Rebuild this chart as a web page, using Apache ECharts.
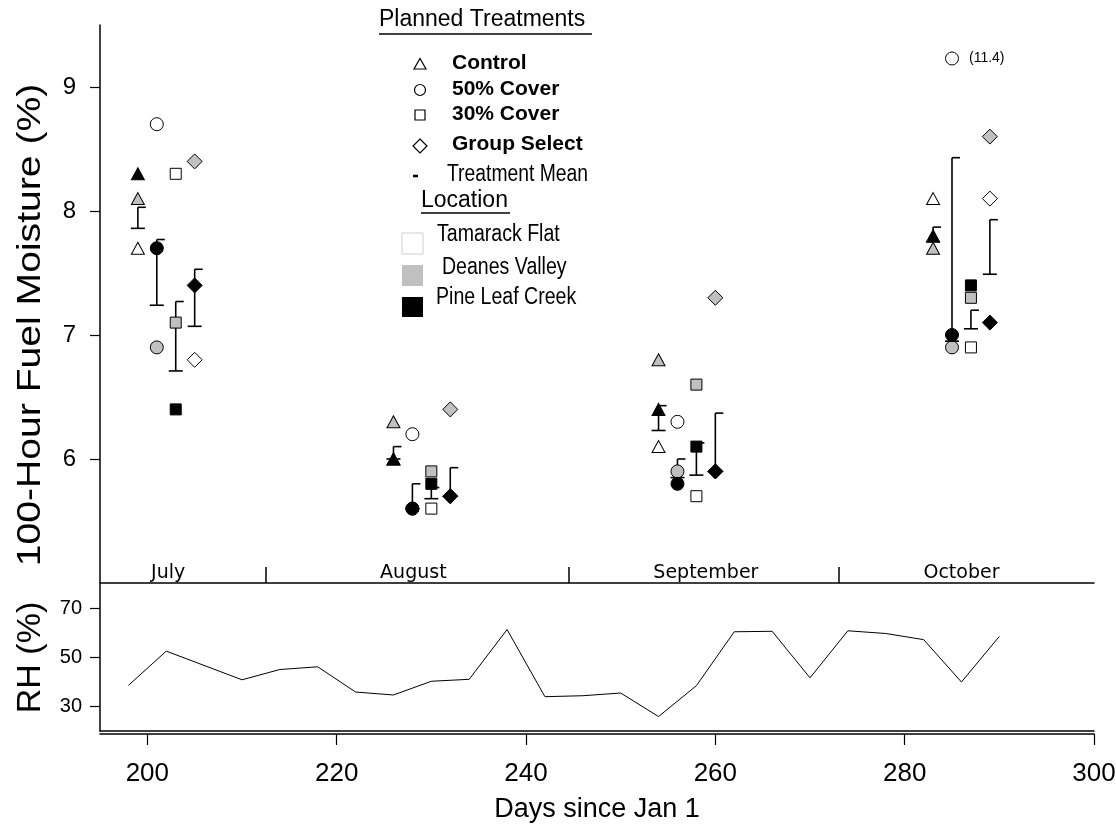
<!DOCTYPE html>
<html lang="en">
<head>
<meta charset="UTF-8">
<title>100-Hour Fuel Moisture</title>
<script src="https://cdn.jsdelivr.net/npm/echarts@6/dist/echarts.min.js"></script>
<style>
  html, body { margin: 0; padding: 0; background: #fff; }
  #chart { width: 1116px; height: 827px; }
</style>
</head>
<body>
<div id="chart"></div>
<script>
// sampling day (days since Jan 1) of each treatment, one per month
const controlDays = [199, 226, 254, 283];
const cover50Days = [201, 228, 256, 285];
const cover30Days = [203, 230, 258, 287];
const groupDays = [205, 232, 260, 289];

// 100-hour fuel moisture (%) per treatment and location
const controlTamarack = [7.7, 6.0, 6.1, 8.1];
const controlDeanes = [8.1, 6.3, 6.8, 7.7];
const controlPine = [8.3, 6.0, 6.4, 7.8];
const cover50Tamarack = [8.7, 6.2, 6.3, 9.23]; // Oct value is 11.4, drawn at the top of the axis
const cover50Deanes = [6.9, 5.6, 5.9, 6.9];
const cover50Pine = [7.7, 5.6, 5.8, 7.0];
const cover30Tamarack = [8.3, 5.6, 5.7, 6.9];
const cover30Deanes = [7.1, 5.9, 6.6, 7.3];
const cover30Pine = [6.4, 5.8, 6.1, 7.4];
const groupTamarack = [6.8, 5.7, 5.9, 8.1];
const groupDeanes = [8.4, 6.4, 7.3, 8.6];
const groupPine = [7.4, 5.7, 5.9, 7.1];
const offScaleLabel = '(11.4)';

// treatment means and lower bar ends
const controlMean = [8.03, 6.10, 6.43, 7.87];
const controlLow = [7.86, 6.00, 6.23, 7.75];
const cover50Mean = [7.77, 5.80, 6.00, 8.43];
const cover50Low = [7.24, 5.60, 5.85, 6.95];
const cover30Mean = [7.27, 5.77, 6.13, 7.20];
const cover30Low = [6.71, 5.68, 5.87, 7.05];
const groupMean = [7.53, 5.93, 6.37, 7.93];
const groupLow = [7.07, 5.70, 5.90, 7.49];

// relative humidity (%)
const rhDays = [198, 202, 210, 214, 218, 222, 226, 230, 234, 238, 242, 246, 250, 254, 258, 262, 266, 270, 274, 278, 282, 286, 290];
const rhValues = [38.6, 52.6, 40.9, 45.1, 46.2, 35.9, 34.7, 40.3, 41.1, 61.4, 34.0, 34.4, 35.5, 25.9, 38.5, 60.5, 60.7, 41.7, 60.9, 59.8, 57.3, 40.0, 58.6];

const monthNames = ['July', 'August', 'September', 'October'];
const monthCenters = [202.2, 228.1, 259, 286];
const monthBounds = [212.5, 244.5, 273];
const dayTicks = [200, 220, 240, 260, 280, 300];
const moistureTicks = [6, 7, 8, 9];
const rhTicks = [30, 50, 70];

const locations = [
  { name: 'Tamarack Flat', color: '#ffffff' },
  { name: 'Deanes Valley', color: '#c0c0c0' },
  { name: 'Pine Leaf Creek', color: '#000000' }
];
const treatments = [
  { name: 'Control', symbol: 'triangle', size: [13, 12], days: controlDays,
    values: [controlTamarack, controlDeanes, controlPine], mean: controlMean, low: controlLow },
  { name: '50% Cover', symbol: 'circle', size: 13, days: cover50Days,
    values: [cover50Tamarack, cover50Deanes, cover50Pine], mean: cover50Mean, low: cover50Low },
  { name: '30% Cover', symbol: 'rect', size: 11, days: cover30Days,
    values: [cover30Tamarack, cover30Deanes, cover30Pine], mean: cover30Mean, low: cover30Low },
  { name: 'Group Select', symbol: 'diamond', size: 15, days: groupDays,
    values: [groupTamarack, groupDeanes, groupPine], mean: groupMean, low: groupLow }
];

const chart = echarts.init(document.getElementById('chart'));
const arial = '"Liberation Sans", Arial, sans-serif';

let series = [];
locations.forEach(function (loc, li) {
  treatments.forEach(function (t) {
    series.push({
      type: 'scatter',
      name: t.name + ' - ' + loc.name,
      xAxisIndex: 0, yAxisIndex: 0,
      symbol: t.symbol,
      symbolSize: t.size,
      itemStyle: { color: loc.color, borderColor: '#000', borderWidth: 1, opacity: 1 },
      data: t.days.map(function (d, i) {
        let item = { value: [d, t.values[li][i]] };
        if (t.name === '50% Cover' && li === 0 && i === 3) {
          item.label = { show: true, position: 'right', distance: 10, formatter: offScaleLabel,
            color: '#000', fontFamily: arial, fontSize: 14 };
        }
        return item;
      })
    });
  });
});

let barData = [];
treatments.forEach(function (t) {
  t.days.forEach(function (d, i) { barData.push([d, t.mean[i], t.low[i]]); });
});

series.push({
  type: 'custom',
  name: 'Treatment Mean',
  xAxisIndex: 0, yAxisIndex: 0,
  data: barData,
  encode: { x: 0, y: [1, 2] },
  renderItem: function (params, api) {
    const top = api.coord([api.value(0), api.value(1)]);
    const low = api.coord([api.value(0), api.value(2)]);
    const style = { stroke: '#000', lineWidth: 1.6 };
    return {
      type: 'group',
      children: [
        { type: 'line', shape: { x1: top[0], y1: top[1], x2: low[0], y2: low[1] }, style: style },
        { type: 'line', shape: { x1: top[0], y1: top[1], x2: top[0] + 8, y2: top[1] }, style: style },
        { type: 'line', shape: { x1: low[0] - 7, y1: low[1], x2: low[0] + 7, y2: low[1] }, style: style }
      ]
    };
  }
});

series.push({
  type: 'line',
  name: 'RH',
  xAxisIndex: 1, yAxisIndex: 1,
  data: rhDays.map(function (d, i) { return [d, rhValues[i]]; }),
  symbol: 'none',
  lineStyle: { color: '#000', width: 1 }
});

const axisLine = { show: true, lineStyle: { color: '#000', width: 1.5 } };

// legend block (text and sample symbols), plus the stretched y title
const legendSymbolStyle = { fill: '#fff', stroke: '#000', lineWidth: 1.2 };
const graphic = [
  { type: 'text', x: 31, y: 325, rotation: Math.PI / 2, scaleX: 1.15,
    style: { text: '100-Hour Fuel Moisture (%)', font: '34px ' + arial, fill: '#000', align: 'center', verticalAlign: 'middle' } },
  { type: 'text', left: 379, top: 8, style: { text: 'Planned Treatments', font: '23px ' + arial, fill: '#000' } },
  { type: 'line', shape: { x1: 379, y1: 34, x2: 592, y2: 34 }, style: { stroke: '#000', lineWidth: 1.5 } },
  { type: 'polygon', shape: { points: [[420, 58.5], [426, 69], [414, 69]] }, style: legendSymbolStyle },
  { type: 'circle', shape: { cx: 420, cy: 90, r: 5.5 }, style: legendSymbolStyle },
  { type: 'rect', shape: { x: 415, y: 110, width: 10, height: 10 }, style: legendSymbolStyle },
  { type: 'polygon', shape: { points: [[420, 139], [427, 146], [420, 153], [413, 146]] }, style: legendSymbolStyle },
  { type: 'line', shape: { x1: 413, y1: 176, x2: 418, y2: 176 }, style: { stroke: '#000', lineWidth: 2.5 } },
  { type: 'text', left: 452, top: 53, style: { text: 'Control', font: 'bold 21px ' + arial, fill: '#000' } },
  { type: 'text', left: 452, top: 79, style: { text: '50% Cover', font: 'bold 21px ' + arial, fill: '#000' } },
  { type: 'text', left: 452, top: 104, style: { text: '30% Cover', font: 'bold 21px ' + arial, fill: '#000' } },
  { type: 'text', left: 452, top: 134, style: { text: 'Group Select', font: 'bold 21px ' + arial, fill: '#000' } },
  { type: 'text', x: 447, y: 163, scaleX: 0.84, style: { text: 'Treatment Mean', font: '23px ' + arial, fill: '#000' } },
  { type: 'text', left: 421, top: 189, style: { text: 'Location', font: '23px ' + arial, fill: '#000' } },
  { type: 'line', shape: { x1: 421, y1: 213, x2: 510, y2: 213 }, style: { stroke: '#000', lineWidth: 1.5 } },
  { type: 'rect', shape: { x: 402, y: 233, width: 21, height: 21 }, style: { fill: '#fff', stroke: '#d0d0d0', lineWidth: 1 } },
  { type: 'rect', shape: { x: 402, y: 265, width: 21, height: 21 }, style: { fill: '#c0c0c0' } },
  { type: 'rect', shape: { x: 402, y: 297, width: 21, height: 20 }, style: { fill: '#000' } },
  { type: 'text', x: 437, y: 223, scaleX: 0.85, style: { text: 'Tamarack Flat', font: '23px ' + arial, fill: '#000' } },
  { type: 'text', x: 442, y: 256, scaleX: 0.85, style: { text: 'Deanes Valley', font: '23px ' + arial, fill: '#000' } },
  { type: 'text', x: 436, y: 286, scaleX: 0.85, style: { text: 'Pine Leaf Creek', font: '23px ' + arial, fill: '#000' } }
];

chart.setOption({
  animation: false,
  backgroundColor: '#fff',
  graphic: graphic,
  grid: [
    { left: 100, right: 22, top: 25, height: 558, outerBoundsMode: 'none' },
    { left: 100, right: 22, top: 584, height: 147, outerBoundsMode: 'none' }
  ],
  xAxis: [
    {
      gridIndex: 0, type: 'value', min: 195, max: 300, position: 'bottom',
      axisLine: axisLine,
      axisTick: { show: true, inside: true, length: 16, customValues: monthBounds, lineStyle: { color: '#000', width: 1.5 } },
      axisLabel: { show: true, inside: true, margin: 0, customValues: monthCenters,
        formatter: function (v) { return monthNames[monthCenters.indexOf(v)]; },
        color: '#000', fontFamily: '"DejaVu Sans", sans-serif', fontSize: 19 },
      splitLine: { show: false }
    },
    {
      gridIndex: 1, type: 'value', min: 195, max: 300, position: 'bottom',
      axisLine: axisLine, axisTick: { show: false }, axisLabel: { show: false }, splitLine: { show: false }
    },
    {
      gridIndex: 1, type: 'value', min: 195, max: 300, position: 'bottom', offset: 3,
      axisLine: axisLine,
      axisTick: { show: true, length: 11, customValues: dayTicks, lineStyle: { color: '#000', width: 1.2 } },
      axisLabel: { show: true, margin: 27, customValues: dayTicks, color: '#000', fontFamily: arial, fontSize: 26 },
      splitLine: { show: false },
      name: 'Days since Jan 1', nameLocation: 'middle', nameGap: 62,
      nameTextStyle: { color: '#000', fontFamily: arial, fontSize: 27 }
    }
  ],
  yAxis: [
    {
      gridIndex: 0, type: 'value', min: 5, max: 9.5,
      axisLine: axisLine,
      axisTick: { show: true, length: 10, customValues: moistureTicks, lineStyle: { color: '#000', width: 1.2 } },
      axisLabel: { show: true, margin: 24, customValues: moistureTicks, color: '#000', fontFamily: arial, fontSize: 24 },
      splitLine: { show: false }
    },
    {
      gridIndex: 1, type: 'value', min: 20, max: 80,
      axisLine: axisLine,
      axisTick: { show: true, length: 10, customValues: rhTicks, lineStyle: { color: '#000', width: 1.2 } },
      axisLabel: { show: true, margin: 18, customValues: rhTicks, color: '#000', fontFamily: arial, fontSize: 20 },
      splitLine: { show: false },
      name: 'RH (%)', nameLocation: 'middle', nameGap: 52,
      nameTextStyle: { color: '#000', fontFamily: arial, fontSize: 34 }
    }
  ],
  series: series
});
</script>
</body>
</html>
